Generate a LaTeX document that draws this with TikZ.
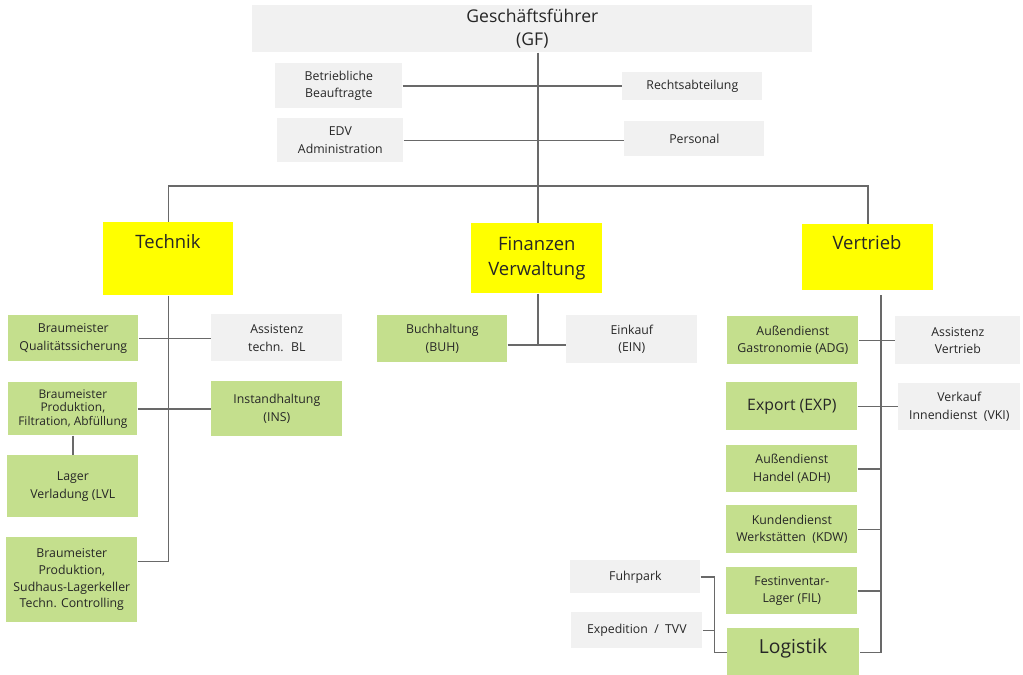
\documentclass[tikz,border=0pt]{standalone}
\usepackage{fontspec}
\setmainfont{Open Sans}
\usetikzlibrary{positioning}

\definecolor{greybox}{RGB}{241,241,241}
\definecolor{greenbox}{RGB}{196,223,141}
\definecolor{yellowbox}{RGB}{255,255,0}
\definecolor{linegrey}{RGB}{105,105,105}

\begin{document}
\begin{tikzpicture}[x=0.02cm,y=-0.02cm]
\tikzset{
box/.style={anchor=north west,inner sep=1pt,align=center,text=black!85,
  font=\fontsize{7}{10}\selectfont},
sz/.style 2 args={minimum width=#1*0.02cm,minimum height=#2*0.02cm},
gbox/.style={box,fill=greybox},
lbox/.style={box,fill=greenbox},
ybox/.style={box,fill=yellowbox},
head/.style={font=\fontsize{10.5}{14}\selectfont,text=black!85},
link/.style={draw=linegrey,line width=0.8pt},
}
\useasboundingbox (0,0) rectangle (1023,675);

% MANAGEMENT
\node[gbox,sz={560}{47},font=\fontsize{10}{13}\selectfont] (gf) at (252,5) {Geschäftsführer\\(GF)};
\node[gbox,sz={127}{45}] (bb) at (275,63) {Betriebliche\\Beauftragte};
\node[gbox,sz={140}{28}] (recht) at (622,72) {Rechtsabteilung};
\node[gbox,sz={126}{44}] (edv) at (277,118) {EDV\\Administration};
\node[gbox,sz={140}{35}] (pers) at (624,121) {Personal};

% DEPARTMENTS
\node[ybox,sz={130}{73}] (tech) at (103,222) {};
\node[head] (techT) at (168,242) {Technik};
\node[ybox,sz={131}{70},font=\fontsize{10.5}{14}\selectfont] (fin) at (471,223) {Finanzen\\Verwaltung};
\node[ybox,sz={131}{66}] (vert) at (802,224) {};
\node[head] (vertT) at (867,243) {Vertrieb};

% TECHNIK
\node[lbox,sz={130}{46}] (bq) at (8,315) {Braumeister\\Qualitätssicherung};
\node[gbox,sz={131}{47}] (atb) at (211,314) {Assistenz\\techn.~ BL};
\node[lbox,sz={129}{53},font=\fontsize{6.8}{7.6}\selectfont] (bp) at (8,382) {Braumeister\\Produktion,\\Filtration, Abfüllung};
\node[lbox,sz={131}{55}] (ins) at (211,381) {Instandhaltung\\(INS)};
\node[lbox,sz={131}{62}] (lvl) at (7,455) {Lager\\Verladung (LVL};
\node[lbox,sz={131}{85},font=\fontsize{7}{9.5}\selectfont] (sud) at (6,537) {Braumeister\\Produktion,\\Sudhaus-Lagerkeller\\Techn. Controlling};

% FINANZEN
\node[lbox,sz={130}{47}] (buh) at (377,315) {Buchhaltung\\(BUH)};
\node[gbox,sz={131}{48}] (ein) at (566,315) {Einkauf\\(EIN)};

% VERTRIEB
\node[lbox,sz={131}{48}] (adg) at (727,316) {Außendienst\\Gastronomie (ADG)};
\node[gbox,sz={125}{48}] (asv) at (895,316) {Assistenz\\Vertrieb};
\node[lbox,sz={131}{48},font=\fontsize{9}{12}\selectfont] (exp) at (726,382) {Export (EXP)};
\node[gbox,sz={122}{47}] (vki) at (898,383) {Verkauf\\Innendienst~ (VKI)};
\node[lbox,sz={131}{47}] (adh) at (726,445) {Außendienst\\Handel (ADH)};
\node[lbox,sz={131}{48}] (kdw) at (726,505) {Kundendienst\\Werkstätten~ (KDW)};
\node[lbox,sz={131}{47}] (fil) at (726,567) {Festinventar-\\Lager (FIL)};
\node[lbox,sz={132}{48}] (log) at (727,628) {};
\node[font=\fontsize{11}{14}\selectfont,text=black!85] (logT) at (793,648) {Logistik};
\node[gbox,sz={130}{33}] (fuhr) at (570,560) {Fuhrpark};
\node[gbox,sz={131}{36}] (tvv) at (571,612) {Expedition~ /~ TVV};

% LINES
\coordinate (bus) at (538,186);
\coordinate (finj) at (538,345);
\coordinate (vs) at (881,295);
\draw[link] (bus |- gf.south) -- (bus |- fin.north);
\draw[link] (bb.east) -- (bb.east -| recht.west);
\draw[link] (edv.east) -- (edv.east -| pers.west);
\draw[link] (tech.north) |- (bus) -| (vert.north);

\draw[link] (tech.south) |- ([yshift=0.37cm]sud.east);
\draw[link] (bq.east) -- (bq.east -| atb.west);
\draw[link] (bp.east) -- (bp.east -| ins.west);
\draw[link] (bp.south) -- (lvl.north -| bp.south);

\draw[link] (finj |- fin.south) -- (finj);
\draw[link] (buh.east |- finj) -- (ein.west |- finj);

\draw[link] (vs) |- (log.east);
\draw[link] (adg.east) -- (adg.east -| asv.west);
\draw[link] (exp.east) -- (exp.east -| vki.west);
\draw[link] (adh.east) -- (adh.east -| vs);
\draw[link] (kdw.east) -- (kdw.east -| vs);
\draw[link] (fil.east) -- (fil.east -| vs);
\draw[link] (fuhr.east) -- ++(14,0) coordinate (fk) |- (log.west);
\draw[link] (tvv.east) -- (tvv.east -| fk);
\end{tikzpicture}
\end{document}
